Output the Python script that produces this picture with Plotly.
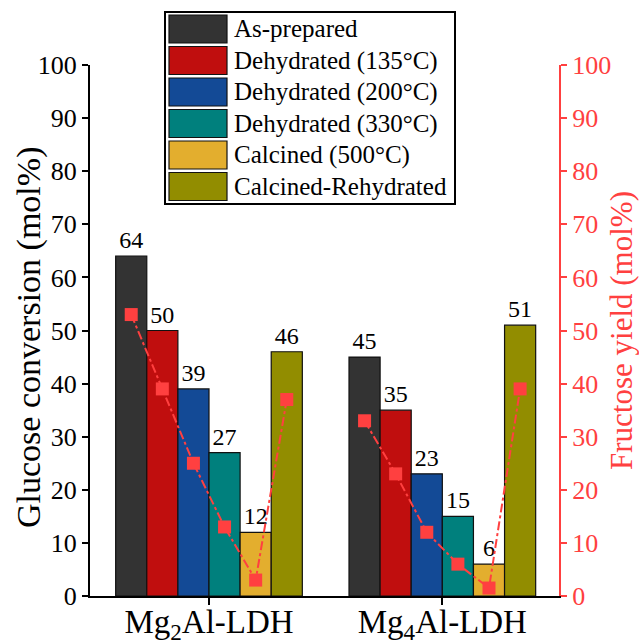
import plotly.graph_objects as go

# ---- data ----
categories = ["Mg<sub>2</sub>Al-LDH", "Mg<sub>4</sub>Al-LDH"]
series_names = ["As-prepared", "Dehydrated (135°C)", "Dehydrated (200°C)",
                "Dehydrated (330°C)", "Calcined (500°C)", "Calcined-Rehydrated"]
as_prepared = [64, 45]
dehydrated_135 = [50, 35]
dehydrated_200 = [39, 23]
dehydrated_330 = [27, 15]
calcined_500 = [12, 6]
calcined_rehydrated = [46, 51]
fructose_mg2al = [53, 39, 25, 13, 3, 37]
fructose_mg4al = [33, 23, 12, 6, 1.5, 39]
y_ticks = list(range(0, 101, 10))

conversion = [as_prepared, dehydrated_135, dehydrated_200,
              dehydrated_330, calcined_500, calcined_rehydrated]
fructose = [fructose_mg2al, fructose_mg4al]

# ---- styles ----
colors = ["#333333", "#C00E0E", "#134A96", "#00807D", "#E3AE2E", "#928D00"]
RED = "#FF4040"
FONT = "Times New Roman, Liberation Serif, serif"
W, H = 639, 641
L, R, T, B = 90, 80, 65, 45
BARGAP = 0.2
n = len(series_names)
bw = (1 - BARGAP) / n
xpos = list(range(len(categories)))

fig = go.Figure()
for i, (name, vals) in enumerate(zip(series_names, conversion)):
    fig.add_trace(go.Bar(
        x=xpos, y=vals, name=name, showlegend=False,
        marker=dict(color=colors[i], line=dict(color="#111111", width=1.2)),
        texttemplate="%{y}", textposition="outside", constraintext="none",
        textfont=dict(family=FONT, size=24, color="black"),
        cliponaxis=False,
    ))

for g, vals in enumerate(fructose):
    xs = [xpos[g] + (i - (n - 1) / 2) * bw for i in range(n)]
    fig.add_trace(go.Scatter(
        x=xs, y=vals, yaxis="y2", mode="lines+markers", showlegend=False,
        line=dict(color=RED, width=2, dash="dashdot"),
        marker=dict(symbol="square", size=13, color=RED),
        cliponaxis=False,
    ))

# ---- manual legend with large swatches ----
pw, ph = W - L - R, H - T - B
def px(xp): return (xp - L) / pw
def py(yp): return (H - B - yp) / ph

shapes = [dict(type="rect", xref="paper", yref="paper",
               x0=px(165), x1=px(455), y0=py(204), y1=py(12),
               line=dict(color="black", width=2), fillcolor="white", layer="above")]
annotations = []
for i, name in enumerate(series_names):
    top = 15 + 31.5 * i
    shapes.append(dict(type="rect", xref="paper", yref="paper",
                       x0=px(169), x1=px(227), y0=py(top + 28), y1=py(top),
                       line=dict(color="#111111", width=1.2), fillcolor=colors[i], layer="above"))
    annotations.append(dict(xref="paper", yref="paper", x=px(232), y=py(top + 14),
                            text=name, showarrow=False, xanchor="left", yanchor="middle",
                            font=dict(family=FONT, size=25, color="black")))

# left axis title
annotations.append(dict(xref="paper", yref="paper", x=px(29), y=py(338),
                        text="Glucose conversion (mol%)", textangle=-90, showarrow=False,
                        xanchor="center", yanchor="middle",
                        font=dict(family=FONT, size=34, color="black")))

fig.update_layout(
    width=W, height=H, margin=dict(l=L, r=R, t=T, b=B, autoexpand=False),
    paper_bgcolor="white", plot_bgcolor="white",
    barmode="group", bargap=BARGAP, bargroupgap=0,
    font=dict(family=FONT, color="black"),
    shapes=shapes, annotations=annotations,
    xaxis=dict(range=[-0.51, 1.5], tickvals=xpos, ticktext=categories,
               showline=True, linecolor="black", linewidth=2, automargin=False,
               ticks="outside", ticklen=7, tickwidth=2, tickcolor="black",
               ticklabelstandoff=-12,
               tickfont=dict(family=FONT, size=33, color="black"),
               showgrid=False, zeroline=False),
    yaxis=dict(range=[0, 100], tickvals=y_ticks, automargin=False,
               showline=True, linecolor="black", linewidth=2,
               ticks="outside", ticklen=6, tickwidth=2, tickcolor="black",
               tickfont=dict(family=FONT, size=26, color="black"),
               showgrid=False, zeroline=False),
    yaxis2=dict(range=[0, 100], tickvals=y_ticks, overlaying="y", side="right",
                showline=True, linecolor=RED, linewidth=2, automargin=False,
                ticks="outside", ticklen=6, tickwidth=2, tickcolor=RED,
                tickfont=dict(family=FONT, size=26, color=RED),
                title=dict(text="Fructose yield (mol%)", standoff=2,
                           font=dict(family=FONT, size=31, color=RED)),
                showgrid=False, zeroline=False),
)

fig.write_html("out.html", config={"displayModeBar": False},
               post_script="document.body.style.margin='0';document.body.style.overflow='hidden';")
